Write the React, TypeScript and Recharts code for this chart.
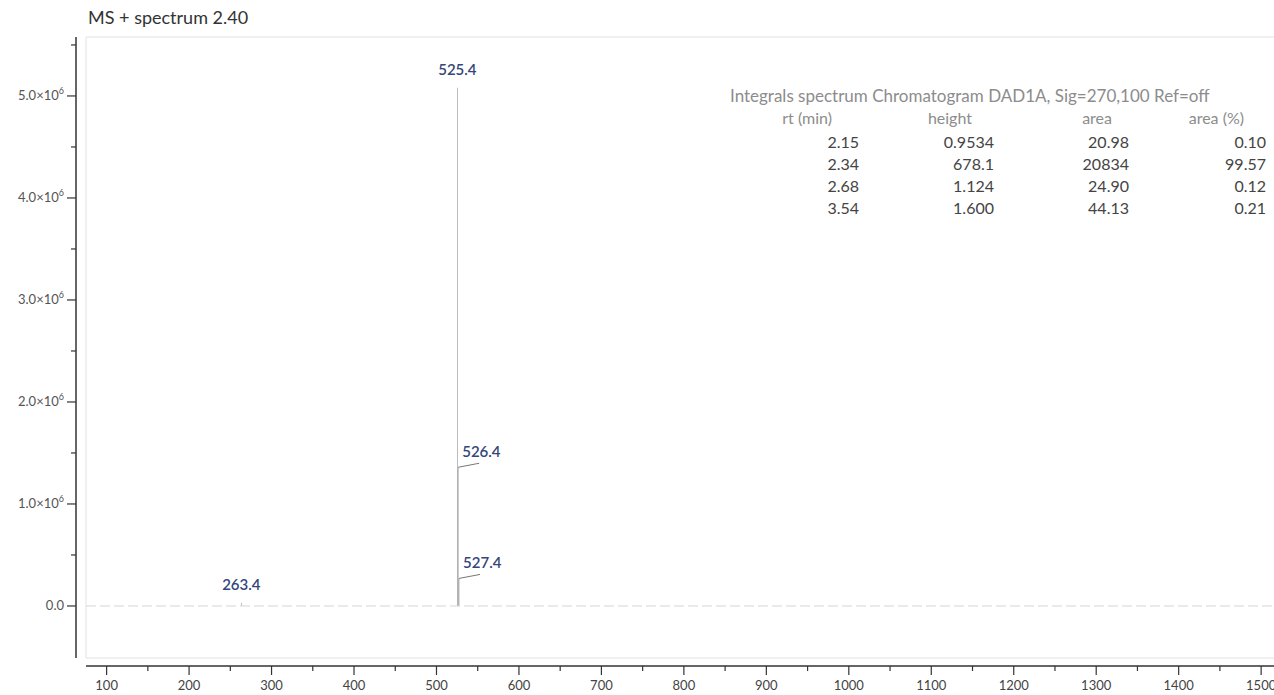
import { ComposedChart, Bar, XAxis, YAxis, ReferenceLine, ReferenceArea, LabelList } from "recharts";

// peaks of the MS spectrum at 2.40 min
const peakMz = [263.4, 525.4, 526.4, 527.4];
const peakIntensity = [30000, 5080000, 1360000, 270000];
const peakLabels = ["263.4", "525.4", "526.4", "527.4"];

const xTicks = [100, 150, 200, 250, 300, 350, 400, 450, 500, 550, 600, 650, 700, 750, 800, 850, 900, 950, 1000, 1050, 1100, 1150, 1200, 1250, 1300, 1350, 1400, 1450, 1500];
const yTicks = [0, 500000, 1000000, 1500000, 2000000, 2500000, 3000000, 3500000, 4000000, 4500000, 5000000, 5500000];
const yTickLabels: Record<number, string> = { 0: "0.0", 1000000: "1.0", 2000000: "2.0", 3000000: "3.0", 4000000: "4.0", 5000000: "5.0" };

// integrals table
const tableTitle = "Integrals spectrum Chromatogram DAD1A, Sig=270,100 Ref=off";
const tableHeaders = ["rt (min)", "height", "area", "area (%)"];
const rtMin = ["2.15", "2.34", "2.68", "3.54"];
const heights = ["0.9534", "678.1", "1.124", "1.600"];
const areas = ["20.98", "20834", "24.90", "44.13"];
const areaPct = ["0.10", "99.57", "0.12", "0.21"];

const X_DOMAIN: [number, number] = [75, 1535];
const Y_DOMAIN: [number, number] = [-510000, 5578000];
const FONT = "Lato, 'Open Sans', sans-serif";

const data = peakMz.map((mz, i) => ({ mz, intensity: peakIntensity[i], label: peakLabels[i] }));

function YTick(props: any) {
  const { x, y, payload } = props;
  const v = payload.value;
  const major = yTickLabels[v] !== undefined;
  const ax = x - 10;
  return (
    <g>
      <line x1={ax - (major ? 9 : 5)} x2={ax} y1={y} y2={y} stroke="#333" strokeWidth={1.2} />
      {major && (
        <text x={ax - 12} y={y + 4} textAnchor="end" fontSize={13} fill="#555" fontFamily={FONT}>
          {yTickLabels[v]}
          {v !== 0 && <tspan>×10</tspan>}
          {v !== 0 && <tspan dy={-6} fontSize={9}>6</tspan>}
        </text>
      )}
    </g>
  );
}

function XTick(props: any) {
  const { x, y, payload } = props;
  const v = payload.value;
  const major = v % 100 === 0;
  const ay = y + 8;
  return (
    <g>
      <line x1={x} x2={x} y1={ay} y2={ay + (major ? 9 : 5)} stroke="#333" strokeWidth={1.2} />
      {major && (
        <text x={x} y={ay + 24} textAnchor="middle" fontSize={13} fill="#444" fontFamily={FONT}>
          {v}
        </text>
      )}
    </g>
  );
}

function PeakLabel(props: any) {
  const { x, y, width, value, index } = props;
  if (!value) return null;
  const cx = x + width / 2;
  const mz = peakMz[index];
  // a taller neighbour close by pushes the label to the side with a leader line
  const crowded = peakMz.some((m, j) => j !== index && Math.abs(m - mz) < 2 && peakIntensity[j] > peakIntensity[index]);
  if (crowded) {
    return (
      <g>
        <line x1={cx} y1={y} x2={cx + 21} y2={y - 4} stroke="#777" strokeWidth={1} />
        <text x={cx + 4} y={y - 10} fontSize={15} fill="#34467a" fontFamily={FONT} fontWeight={600}>
          {value}
        </text>
      </g>
    );
  }
  return (
    <text x={cx} y={y - 13} textAnchor="middle" fontSize={15} fill="#34467a" fontFamily={FONT} fontWeight={600}>
      {value}
    </text>
  );
}

const colRight = [859, 994, 1129, 1266];
const headRight = [832, 972, 1112, 1244];
const columns = [rtMin, heights, areas, areaPct];

export default function App() {
  return (
    <div style={{ position: "absolute", left: 0, top: 0, width: 1274, height: 695, overflow: "hidden", background: "#fff", fontFamily: FONT }}>
      <div style={{ position: "absolute", left: 88, top: 6, fontSize: 18, color: "#333" }}>MS + spectrum 2.40</div>
      <ComposedChart width={1290} height={695} data={data} margin={{ top: 37, right: 0, left: 10, bottom: 7 }}>
        <ReferenceArea x1={X_DOMAIN[0]} x2={X_DOMAIN[1]} y1={Y_DOMAIN[0]} y2={Y_DOMAIN[1]} fill="none" stroke="#e2e2e2" />
        <XAxis
          dataKey="mz"
          type="number"
          domain={X_DOMAIN}
          allowDataOverflow
          ticks={xTicks}
          interval={0}
          height={30}
          tickSize={0}
          tickMargin={0}
          tickLine={false}
          tick={<XTick />}
          axisLine={{ stroke: "#333", strokeWidth: 1.5, transform: "translate(0,8)" }}
        />
        <YAxis
          type="number"
          domain={Y_DOMAIN}
          allowDataOverflow
          ticks={yTicks}
          interval={0}
          width={76}
          tickSize={0}
          tickMargin={0}
          tickLine={false}
          tick={<YTick />}
          axisLine={{ stroke: "#333", strokeWidth: 1.5, transform: "translate(-10,0)" }}
        />
        <ReferenceLine y={0} stroke="#d4d4d4" strokeDasharray="10 4" />
        <Bar dataKey="intensity" barSize={1.5} fill="#3a3a3a" fillOpacity={0.45} isAnimationActive={false}>
          <LabelList dataKey="label" content={<PeakLabel />} />
        </Bar>
      </ComposedChart>
      <div style={{ position: "absolute", left: 730, top: 85, fontSize: 17, color: "#8c8c8c", whiteSpace: "nowrap" }}>{tableTitle}</div>
      {tableHeaders.map((h, c) => (
        <div key={h} style={{ position: "absolute", right: 1274 - headRight[c], top: 108, fontSize: 16, color: "#8c8c8c", whiteSpace: "nowrap" }}>
          {h}
        </div>
      ))}
      {columns.map((col, c) =>
        col.map((v, r) => (
          <div key={c + "-" + r} style={{ position: "absolute", right: 1274 - colRight[c], top: 132 + r * 22, fontSize: 16, color: "#444", whiteSpace: "nowrap" }}>
            {v}
          </div>
        ))
      )}
    </div>
  );
}
